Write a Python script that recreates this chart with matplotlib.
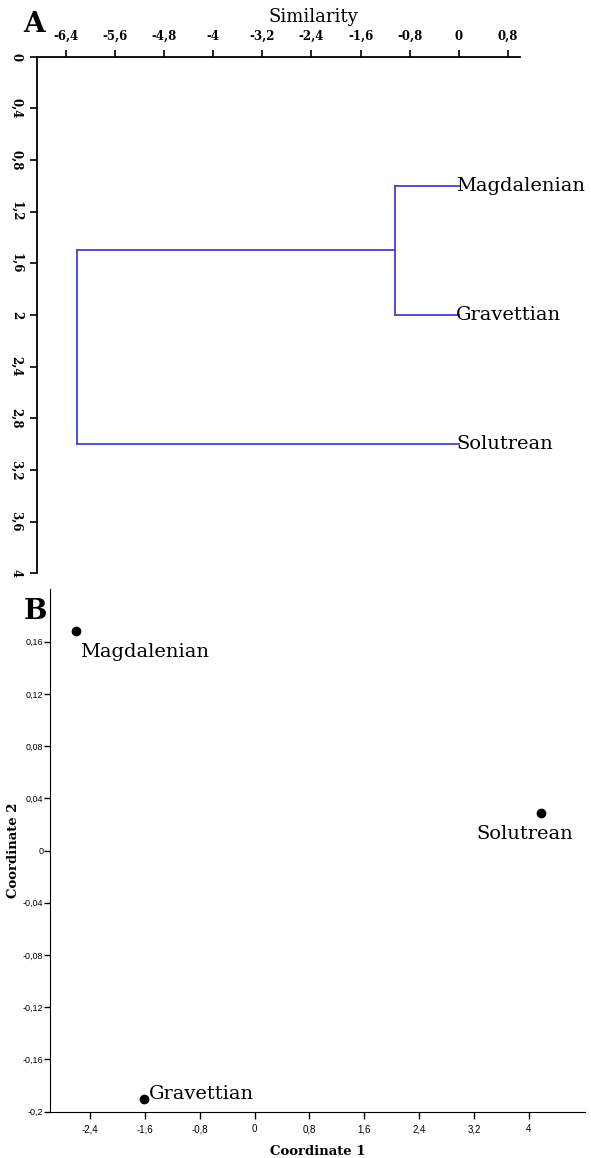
import numpy as np
from matplotlib import pyplot as plt

# dendrogram (panel A)
leaves = ['Magdalenian', 'Gravettian', 'Solutrean']
leaf_pos = [1, 2, 3]
leaf_sim = 0.0
join_mg = -1.04      # Magdalenian + Gravettian
join_all = -6.22     # + Solutrean

sim_ticks = [-6.4, -5.6, -4.8, -4.0, -3.2, -2.4, -1.6, -0.8, 0.0, 0.8]
sim_labels = ['-6,4', '-5,6', '-4,8', '-4', '-3,2', '-2,4', '-1,6', '-0,8', '0', '0,8']
pos_ticks = [0, 0.4, 0.8, 1.2, 1.6, 2.0, 2.4, 2.8, 3.2, 3.6, 4.0]
pos_labels = ['0', '0,4', '0,8', '1,2', '1,6', '2', '2,4', '2,8', '3,2', '3,6', '4']

# MDS (panel B)
groups = ['Magdalenian', 'Gravettian', 'Solutrean']
coord1 = [-2.6, -1.61, 4.18]
coord2 = [0.168, -0.19, 0.029]

c1_ticks = [-2.4, -1.6, -0.8, 0, 0.8, 1.6, 2.4, 3.2, 4]
c1_labels = ['-2,4', '-1,6', '-0,8', '0', '0,8', '1,6', '2,4', '3,2', '4']
c2_ticks = [0.16, 0.12, 0.08, 0.04, 0, -0.04, -0.08, -0.12, -0.16, -0.2]
c2_labels = ['0,16', '0,12', '0,08', '0,04', '0', '-0,04', '-0,08', '-0,12', '-0,16', '-0,2']

serif = 'DejaVu Serif'
narrow = ['Liberation Sans Narrow', 'Liberation Sans']
blue = '#4040d8'

fig = plt.figure(figsize=(5.91, 11.58), dpi=100)

# ---- A ----
ax = fig.add_axes([0.062, 0.505, 0.818, 0.446])
y_mg = (leaf_pos[0] + leaf_pos[1]) / 2
ax.plot([leaf_sim, join_mg], [leaf_pos[0], leaf_pos[0]], color=blue, lw=1.3)
ax.plot([leaf_sim, join_mg], [leaf_pos[1], leaf_pos[1]], color=blue, lw=1.3)
ax.plot([join_mg, join_mg], [leaf_pos[0], leaf_pos[1]], color=blue, lw=1.3)
ax.plot([join_mg, join_all], [y_mg, y_mg], color=blue, lw=1.3)
ax.plot([join_all, join_all], [y_mg, leaf_pos[2]], color=blue, lw=1.3)
ax.plot([join_all, leaf_sim], [leaf_pos[2], leaf_pos[2]], color=blue, lw=1.3)
for name, p in zip(leaves, leaf_pos):
    ax.text(leaf_sim - 0.04, p, name, fontsize=14, family=serif, va='center', ha='left')

ax.set_xlim(-6.88, 1.0)
ax.set_ylim(4, 0)
ax.xaxis.tick_top()
ax.set_xticks(sim_ticks)
ax.set_xticklabels(sim_labels, fontsize=8.5, family=serif, fontweight='bold')
ax.set_yticks(pos_ticks)
ax.set_yticklabels(pos_labels, fontsize=8.5, family=serif, fontweight='bold',
                   rotation=-90, va='center')
ax.spines['right'].set_visible(False)
ax.spines['bottom'].set_visible(False)
for sp in ['top', 'left']:
    ax.spines[sp].set_linewidth(1.3)
ax.tick_params(axis='both', direction='out', length=5, width=1.2, pad=5)
fig.text(0.53, 0.985, 'Similarity', fontsize=13, family=serif, ha='center', va='center')
fig.text(0.04, 0.979, 'A', fontsize=20, family=serif, fontweight='bold', ha='left', va='center')

# ---- B ----
bx = fig.add_axes([0.085, 0.040, 0.905, 0.451])
bx.plot(coord1, coord2, 'o', color='black', markersize=6)
offsets = [(3, -15), (3.5, 3), (-47, -15)]
for name, x, y, off in zip(groups, coord1, coord2, offsets):
    bx.annotate(name, (x, y), xytext=off, textcoords='offset points',
                fontsize=14, family=serif, ha='left', va='center')
bx.set_xlim(-2.98, 4.82)
bx.set_ylim(-0.2, 0.2)
bx.set_xticks(c1_ticks)
bx.set_xticklabels(c1_labels, fontsize=7, family=narrow)
bx.set_yticks(c2_ticks)
bx.set_yticklabels(c2_labels, fontsize=6.5, family=narrow)
bx.set_xlabel('Coordinate 1', fontsize=9.5, family=serif, fontweight='bold', labelpad=8)
bx.set_ylabel('Coordinate 2', fontsize=9.5, family=serif, fontweight='bold')
bx.yaxis.set_label_coords(-0.056, 0.5)
bx.spines['right'].set_visible(False)
bx.spines['top'].set_visible(False)
bx.tick_params(axis='x', direction='out', length=5, width=1, pad=4)
bx.tick_params(axis='y', direction='out', length=4, width=1, pad=1)
fig.text(0.04, 0.472, 'B', fontsize=20, family=serif, fontweight='bold', ha='left', va='center')

fig.savefig('out.png', dpi=100)
